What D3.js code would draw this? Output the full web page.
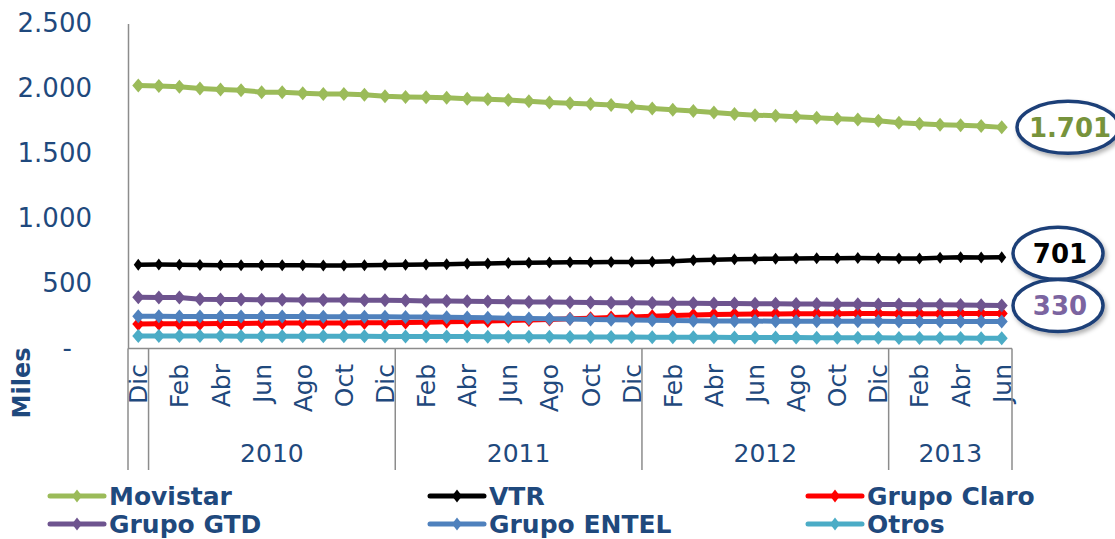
<!DOCTYPE html>
<html>
<head>
<meta charset="utf-8">
<script src="https://cdn.jsdelivr.net/npm/d3@7"></script>
<style>
  html, body { margin: 0; padding: 0; background: #fff; }
  svg { display: block; font-family: "DejaVu Sans", Verdana, sans-serif; }
</style>
</head>
<body>
<svg id="chart" width="1115" height="539"></svg>
<script>
// ---------------- DATA ----------------
const categories = [
  "Dic","Ene","Feb","Mar","Abr","May","Jun","Jul","Ago","Sep","Oct","Nov",
  "Dic","Ene","Feb","Mar","Abr","May","Jun","Jul","Ago","Sep","Oct","Nov",
  "Dic","Ene","Feb","Mar","Abr","May","Jun","Jul","Ago","Sep","Oct","Nov",
  "Dic","Ene","Feb","Mar","Abr","May","Jun"
];
const yearLabels = ["", "2010", "2011", "2012", "2013"];
const yearStart  = [0, 1, 13, 25, 37];
const yearEnd    = [0, 12, 24, 36, 42];

const yTickValues = [0, 500, 1000, 1500, 2000, 2500];
const yTickLabels = ["-", "500", "1.000", "1.500", "2.000", "2.500"];

const movistar = [2023,2020,2014,2000,1993,1987,1972,1972,1964,1958,1957,1951,1941,
  1935,1932,1928,1922,1918,1912,1902,1893,1886,1880,1873,1860,
  1846,1836,1826,1815,1803,1795,1790,1782,1775,1768,1762,1752,
  1736,1728,1722,1718,1712,1701];
const vtr = [645,646,645,643,641,640,640,641,640,638,639,641,643,
  645,646,648,651,654,657,660,662,663,664,665,666,
  668,672,678,683,686,689,691,693,694,695,696,695,
  693,692,698,701,700,701];
const claro = [188,190,190,191,192,193,195,196,196,197,197,198,199,
  200,202,205,208,212,216,220,224,228,233,238,243,
  248,253,258,261,263,265,266,267,268,268,269,269,
  268,268,268,269,270,270];
const gtd = [395,393,392,378,376,376,375,375,374,374,373,372,372,
  370,366,365,363,362,360,358,357,355,354,352,351,
  350,349,348,347,346,345,344,343,342,341,340,339,
  338,337,336,334,332,330];
const entel = [248,248,247,247,247,246,246,246,246,245,245,244,244,
  243,242,240,238,236,233,230,228,226,224,222,220,
  218,216,214,212,211,211,210,210,210,209,209,209,
  208,208,208,208,207,207];
const otros = [97,97,96,96,96,95,95,95,95,94,94,94,93,
  93,92,92,92,91,91,90,90,89,89,88,88,
  87,87,86,86,85,85,84,84,83,83,82,82,
  81,81,80,80,79,79];

const seriesNames  = ["Movistar", "VTR", "Grupo Claro", "Grupo GTD", "Grupo ENTEL", "Otros"];
const seriesValues = [movistar, vtr, claro, gtd, entel, otros];
const seriesColors = ["#9BBB59", "#000000", "#FF0000", "#6E548F", "#4F81BD", "#4BACC6"];

const calloutSeries = ["Movistar", "VTR", "Grupo GTD"];
const calloutText   = ["1.701", "701", "330"];
const calloutColors = ["#77933C", "#000000", "#7B64A0"];

// ---------------- LAYOUT ----------------
const svg = d3.select("#chart");
const textBlue = "#1F497D";
const axisGray = "#8C8C8C";

const x = d3.scalePoint().domain(d3.range(categories.length)).range([128, 1012]).padding(0.5);
const step = x.step();
const y = d3.scaleLinear().domain([0, 2500]).range([348.5, 23.5]);

const defs = svg.append("defs");
const f = defs.append("filter").attr("id", "shadow").attr("x", "-20%").attr("y", "-20%").attr("width", "150%").attr("height", "160%");
f.append("feDropShadow").attr("dx", 2).attr("dy", 3).attr("stdDeviation", 2)
  .attr("flood-color", "#000").attr("flood-opacity", 0.3);

// Y axis
const yAxis = d3.axisLeft(y).tickValues(yTickValues)
  .tickFormat((d, i) => yTickLabels[i]).tickSize(0).tickPadding(36);
const gy = svg.append("g").attr("transform", "translate(128,0)").call(yAxis);
gy.select(".domain").attr("stroke", axisGray).attr("stroke-width", 1.5);
gy.selectAll("text").attr("fill", textBlue).attr("font-size", 26)
  .attr("font-family", "'DejaVu Sans', Verdana, sans-serif");
gy.selectAll(".tick").filter(d => d === 0).select("text").attr("dx", -20);

// Y axis title
svg.append("text")
  .attr("transform", "translate(22,383) rotate(-90)")
  .attr("text-anchor", "middle").attr("dy", "0.35em")
  .attr("font-size", 24).attr("font-weight", "bold").attr("fill", textBlue)
  .text("Miles");

// X axis baseline
const gx = svg.append("g");
gx.append("line").attr("x1", 128).attr("x2", 1012).attr("y1", y(0)).attr("y2", y(0))
  .attr("stroke", axisGray).attr("stroke-width", 1.5);

// Month labels (every other category)
gx.selectAll("text.month")
  .data(categories.map((c, i) => ({c, i})).filter(d => d.i % 2 === 0))
  .join("text").attr("class", "month")
  .attr("transform", d => `translate(${x(d.i)},364) rotate(-90)`)
  .attr("text-anchor", "end").attr("dy", "0.36em")
  .attr("font-size", 25).attr("fill", textBlue)
  .text(d => d.c);

// Group separators
const sepX = [128];
yearStart.forEach((s, i) => { sepX.push(x(yearEnd[i]) + step / 2); });
gx.selectAll("line.sep").data(sepX).join("line").attr("class", "sep")
  .attr("x1", d => d).attr("x2", d => d).attr("y1", y(0)).attr("y2", 470)
  .attr("stroke", axisGray).attr("stroke-width", 1.5);

// Year labels
gx.selectAll("text.year").data(yearLabels.map((l, i) => ({l, i})).filter(d => d.l))
  .join("text").attr("class", "year")
  .attr("x", d => (x(yearStart[d.i]) + x(yearEnd[d.i])) / 2)
  .attr("y", 462).attr("text-anchor", "middle")
  .attr("font-size", 25).attr("fill", textBlue)
  .text(d => d.l);

// Lines
const line = d3.line().x((d, i) => x(i)).y(d => y(d));
const diamond = (w, h) => `M0,${-h}L${w},0L0,${h}L${-w},0Z`;

seriesValues.forEach((vals, si) => {
  const g = svg.append("g");
  g.append("path").datum(vals).attr("d", line)
    .attr("fill", "none").attr("stroke", seriesColors[si])
    .attr("stroke-width", si === 1 ? 4.5 : 5).attr("stroke-linejoin", "round");
  const w = si === 1 ? 4.5 : 6, h = si === 1 ? 6 : 7;
  g.selectAll("path.m").data(vals).join("path").attr("class", "m")
    .attr("d", diamond(w, h))
    .attr("transform", (d, i) => `translate(${x(i)},${y(d)})`)
    .attr("fill", seriesColors[si]);
});

// Callouts
const calloutCx = [1068, 1058, 1058];
const calloutRx = [51, 45, 45];
calloutSeries.forEach((name, ci) => {
  const vals = seriesValues[seriesNames.indexOf(name)];
  const cy = y(vals[vals.length - 1]) + (ci === 1 ? -4 : 0);
  svg.append("ellipse").attr("cx", calloutCx[ci]).attr("cy", cy)
    .attr("rx", calloutRx[ci]).attr("ry", 26)
    .attr("fill", "#fff").attr("stroke", "#1F3F78").attr("stroke-width", 3.5)
    .attr("filter", "url(#shadow)");
  svg.append("text").attr("x", calloutCx[ci] + 2).attr("y", cy).attr("dy", "0.36em")
    .attr("text-anchor", "middle").attr("font-size", 26).attr("font-weight", "bold")
    .attr("fill", calloutColors[ci]).text(calloutText[ci]);
});

// Legend
const legX = [48, 428, 806];
const legY = [496, 524];
seriesNames.forEach((name, i) => {
  const lx = legX[i % 3], ly = legY[Math.floor(i / 3)];
  const g = svg.append("g").attr("transform", `translate(${lx},${ly})`);
  g.append("line").attr("x1", 2).attr("x2", 56).attr("y1", 0).attr("y2", 0)
    .attr("stroke", seriesColors[i]).attr("stroke-width", 5).attr("stroke-linecap", "round");
  g.append("path").attr("d", diamond(5, 6.5)).attr("transform", "translate(29,0)")
    .attr("fill", seriesColors[i]);
  g.append("text").attr("x", 61).attr("y", 0).attr("dy", "0.34em")
    .attr("font-size", 25).attr("font-weight", "bold").attr("fill", textBlue)
    .text(name);
});
</script>
</body>
</html>
